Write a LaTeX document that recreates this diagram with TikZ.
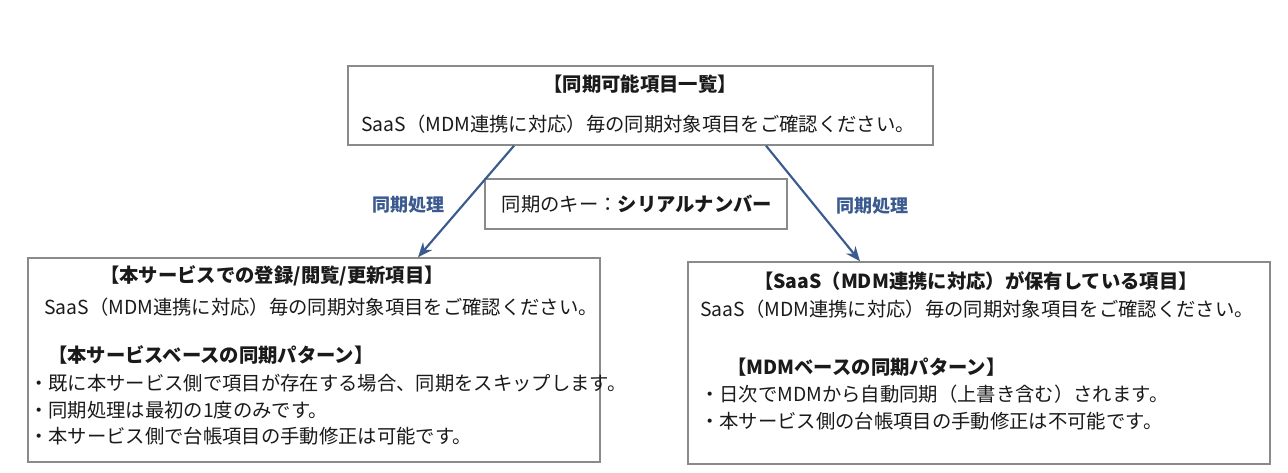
\documentclass[tikz,border=0pt]{standalone}
\usepackage{fontspec}
\setmainfont{Noto Sans CJK JP}
\usetikzlibrary{fit,arrows.meta}
\definecolor{boxgray}{HTML}{8A8A8A}
\definecolor{arrblue}{HTML}{3B5A8F}
\definecolor{txt}{HTML}{1A1A1A}
\tikzset{
  frame/.style={draw=boxgray, line width=1.1pt, inner sep=0pt, fill=white},
  txtc/.style={inner sep=0pt, anchor=center, text=txt, font=\fontsize{14.5}{16}\selectfont},
  txtw/.style={inner sep=0pt, anchor=west, text=txt, font=\fontsize{14.5}{16}\selectfont},
  ttl/.style={font=\fontsize{14.5}{16}\selectfont\bfseries},
  arr/.style={draw=arrblue, line width=1.6pt, -{Stealth[length=11pt,width=9pt]}},
  lbl/.style={inner sep=0pt, text=arrblue, font=\fontsize{13.5}{15}\selectfont\bfseries}
}
\begin{document}
\begin{tikzpicture}[x=0.75pt,y=-0.75pt]
\useasboundingbox[fill=white] (0,0) rectangle (1288,472);
% boxes
\node[frame, fit={(348,66) (933,145)}] (top) {};
\node[frame, fit={(485,179) (787,229)}] (key) {};
\node[frame, fit={(28,258) (600,462)}] (left) {};
\node[frame, fit={(688,262) (1270,464)}] (right) {};
% top box text
\node[txtc, ttl] (t1) at (640,84) {【同期可能項目一覧】};
\node[txtc] (t2) at (638,124) {SaaS（MDM連携に対応）毎の同期対象項目をご確認ください。};
% key
\node[txtc] (k1) at (637,204) {同期のキー：{\bfseries シリアルナンバー}};
% left box
\node[txtw, ttl] (l1) at (100,276) {【本サービスでの登録/閲覧/更新項目】};
\node[txtw] (l2) at (44,307) {SaaS（MDM連携に対応）毎の同期対象項目をご確認ください。};
\node[txtw, ttl] (l3) at (48,355) {【本サービスベースの同期パターン】};
\node[txtw] (l4) at (29,383) {・既に本サービス側で項目が存在する場合、同期をスキップします。};
\node[txtw] (l5) at (29,410) {・同期処理は最初の1度のみです。};
\node[txtw] (l6) at (29,436) {・本サービス側で台帳項目の手動修正は可能です。};
% right box
\node[txtc, ttl] (r1) at (976,281) {【SaaS（MDM連携に対応）が保有している項目】};
\node[txtw] (r2) at (700,309) {SaaS（MDM連携に対応）毎の同期対象項目をご確認ください。};
\node[txtw, ttl] (r3) at (727,367) {【MDMベースの同期パターン】};
\node[txtw] (r4) at (700,394) {・日次でMDMから自動同期（上書き含む）されます。};
\node[txtw] (r5) at (700,421) {・本サービス側の台帳項目の手動修正は不可能です。};
% arrows
\coordinate (a1) at (514,0);
\coordinate (a2) at (418,0);
\coordinate (b1) at (766,0);
\coordinate (b2) at (860,0);
\draw[arr] (top.south -| a1) -- (left.north -| a2);
\draw[arr] (top.south -| b1) -- (right.north -| b2);
\node[lbl] (la) at (408,205) {同期処理};
\node[lbl] (lb) at (872,206) {同期処理};
\end{tikzpicture}
\end{document}
